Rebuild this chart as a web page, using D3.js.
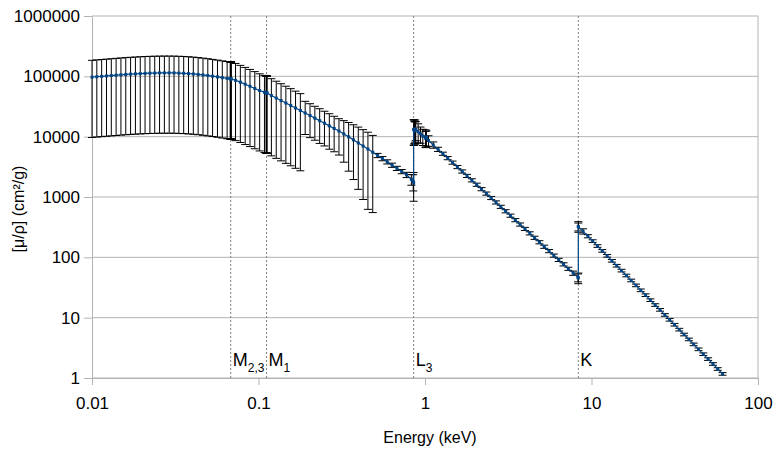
<!DOCTYPE html>
<html>
<head>
<meta charset="utf-8">
<script src="https://cdn.jsdelivr.net/npm/d3@7"></script>
<style>
  body { margin: 0; background: #fff; }
  text { font-family: 'Liberation Sans', Arial, sans-serif; }
</style>
</head>
<body>
<div class="canvas"></div>
<script>
// photon energy (keV)
const energy = [
  // below M2,3
  0.0100, 0.01069, 0.01143, 0.01222, 0.01306, 0.01396, 0.01492, 0.01595, 0.01705, 0.01823,
  0.01949, 0.02083, 0.02227, 0.02381, 0.02545, 0.02721, 0.02908, 0.03109, 0.03324, 0.03553,
  0.03798, 0.0406, 0.0434, 0.0464, 0.0496, 0.0530, 0.0567, 0.0606, 0.0648, 0.0676,
  0.0680, 0.0681, 0.0681, 0.0682, 0.0686,
  // M2,3 -> M1
  0.0728, 0.0778, 0.0832, 0.0889, 0.0950, 0.1016, 0.1086, 0.1110, 0.1117, 0.1118,
  0.1118, 0.1119, 0.1126,
  // M1 -> L3
  0.1195, 0.1278, 0.1366, 0.1460, 0.1561, 0.1669, 0.1784, 0.1907, 0.2039, 0.2180,
  0.2330, 0.2490, 0.2663, 0.2847, 0.3043, 0.3253, 0.3478, 0.3718, 0.3975, 0.4249,
  0.4542, 0.4856, 0.5191, 0.5550, 0.5933, 0.6342, 0.6780, 0.7248, 0.7748, 0.8283,
  0.8500, 0.8547,
  // L3, L2, L1
  0.8547, 0.8590, 0.8634, 0.8721, 0.8721, 0.8800, 0.9100, 0.9400, 0.9700, 1.0081,
  1.0081, 1.0200,
  // L1 -> K
  1.050, 1.121, 1.198, 1.281, 1.369, 1.464, 1.565, 1.673, 1.788, 1.912,
  2.044, 2.185, 2.336, 2.497, 2.669, 2.853, 3.050, 3.261, 3.486, 3.726,
  3.983, 4.258, 4.552, 4.866, 5.202, 5.561, 5.944, 6.355, 6.793, 7.262,
  7.763, 8.299, 8.333,
  // above K
  8.333, 8.340, 8.900, 9.510, 10.16, 10.86, 11.61, 12.41, 13.26, 14.17,
  15.15, 16.19, 17.31, 18.50, 19.77, 21.13, 22.58, 24.13, 25.79, 27.57,
  29.46, 31.49, 33.66, 35.97, 38.45, 41.09, 43.92, 46.94, 50.17, 53.62,
  57.31, 61.25
];

// [mu/rho] (cm2/g)
const mu = [
  97000, 98500, 100000, 101500, 103000, 104500, 106000, 107500, 108800, 110000,
  111000, 112000, 112800, 113400, 113800, 114000, 114000, 113800, 113200, 112300,
  111000, 109500, 107600, 105400, 103000, 100500, 97800, 95000, 92500, 91500,
  91000, 90500, 92000, 91800, 90500,
  86000, 80000, 74000, 68500, 63000, 58000, 54500, 53500, 53000, 52500,
  54000, 53800, 53000,
  48100, 43700, 39700, 36100, 32900, 29900, 27200, 24700, 22400, 20300,
  18400, 16700, 15100, 13700, 12400, 11100, 9930, 8850, 7870, 6990,
  6240, 5520, 4890, 4330, 3830, 3370, 2990, 2640, 2330, 1960,
  1800, 1700,
  13200, 13000, 12800, 12500, 13500, 13200, 12100, 11100, 10200, 9400,
  10000, 9600,
  8630, 7310, 6180, 5220, 4410, 3720, 3140, 2650, 2240, 1890,
  1600, 1350, 1140, 964, 814, 688, 581, 491, 414, 350,
  296, 250, 211, 178, 150, 127, 107, 90.8, 76.6, 64.7,
  54.7, 46.1, 45.7,
  325, 322, 270, 224, 186, 154, 128, 106, 87.7, 72.7,
  60.3, 50.0, 41.4, 34.3, 28.4, 23.6, 19.5, 16.2, 13.5, 11.1,
  9.23, 7.65, 6.34, 5.26, 4.36, 3.61, 2.99, 2.48, 2.06, 1.71,
  1.41, 1.17
];

// relative uncertainty (%)
const errPct = [
  90, 90, 90, 90, 90, 90, 90, 90, 90, 90,
  90, 90, 90, 90, 90, 90, 90, 90, 90, 90,
  90, 90, 90, 90, 90, 90, 90, 90, 90, 90,
  90, 90, 90, 90, 90,
  90, 90, 90, 90, 90, 90, 90, 90, 90, 90,
  90, 90, 90,
  90, 90, 90, 90, 90, 90, 90, 56, 57, 57,
  58, 58, 59, 59, 60, 66, 73, 78, 83, 87,
  90, 90, 8, 8, 8, 8, 8, 8, 10, 20,
  30, 50,
  45, 45, 40, 40, 40, 35, 35, 30, 30, 30,
  30, 30,
  20, 12, 8, 6, 6, 6, 6, 6, 6, 6,
  6, 6, 6, 6, 6, 6, 6, 6, 6, 6,
  6, 6, 6, 6, 6, 6, 6, 6, 6, 6,
  8, 15, 20,
  20, 15, 10, 6, 5, 5, 5, 5, 5, 5,
  5, 5, 5, 5, 5, 5, 5, 5, 5, 5,
  5, 5, 5, 5, 5, 5, 5, 5, 5, 5,
  5, 5
];

// absorption edges
const edgeEnergy = [0.0681, 0.1118, 0.8547, 8.333];
const edgeName = ['M', 'M', 'L', 'K'];
const edgeSub = ['2,3', '1', '3', ''];

const xTicks = [0.01, 0.1, 1, 10, 100];
const yTicks = [1, 10, 100, 1000, 10000, 100000, 1000000];

const dims = {
  width: 775,
  height: 451,
  marginLeft: 92,
  marginTop: 16,
  marginRight: 17,
  marginBottom: 73,
  fontSize: '17px'
};

const graphWidth = dims.width - dims.marginLeft - dims.marginRight;
const graphHeight = dims.height - dims.marginTop - dims.marginBottom;

const svg = d3
  .select('.canvas')
  .append('svg')
  .attr('width', dims.width)
  .attr('height', dims.height);

const graph = svg
  .append('g')
  .attr('transform', `translate(${dims.marginLeft}, ${dims.marginTop})`);

// scales
const x = d3.scaleLog().domain([0.01, 100]).range([0, graphWidth]);
const y = d3.scaleLog().domain([1, 1e6]).range([graphHeight, 0]);

const data = energy.map((e, i) => ({ e: e, v: mu[i], err: errPct[i] }));

// horizontal grid + right frame
graph
  .append('g')
  .selectAll('line')
  .data(yTicks)
  .enter()
  .append('line')
  .attr('x1', 0)
  .attr('x2', graphWidth)
  .attr('y1', (d) => y(d))
  .attr('y2', (d) => y(d))
  .attr('stroke', '#b3b3b3');

graph
  .append('line')
  .attr('x1', graphWidth)
  .attr('x2', graphWidth)
  .attr('y1', 0)
  .attr('y2', graphHeight)
  .attr('stroke', '#b3b3b3');

// axes
const xAxis = d3
  .axisBottom(x)
  .tickValues(xTicks)
  .tickFormat((d) => String(d))
  .tickSize(7)
  .tickSizeOuter(0)
  .tickPadding(12);
const yAxis = d3
  .axisLeft(y)
  .tickValues(yTicks)
  .tickFormat(d3.format('d'))
  .tickSize(8)
  .tickSizeOuter(0)
  .tickPadding(4);

const xAxisGroup = graph
  .append('g')
  .attr('transform', `translate(0, ${graphHeight})`)
  .call(xAxis);
const yAxisGroup = graph.append('g').call(yAxis);

[xAxisGroup, yAxisGroup].forEach((g) => {
  g.select('path.domain').attr('stroke', '#b3b3b3');
  g.selectAll('.tick line').attr('stroke', '#b3b3b3');
  g.selectAll('text')
    .attr('fill', '#000')
    .attr('font-family', null)
    .attr('font-size', dims.fontSize);
});

// edge markers
const edges = graph.append('g');
edges
  .selectAll('line')
  .data(edgeEnergy)
  .enter()
  .append('line')
  .attr('x1', (d) => x(d))
  .attr('x2', (d) => x(d))
  .attr('y1', 0)
  .attr('y2', graphHeight)
  .attr('stroke', '#808080')
  .attr('stroke-dasharray', '2,2');

const labels = edges
  .selectAll('text')
  .data(edgeEnergy)
  .enter()
  .append('text')
  .attr('x', (d) => x(d) + 2)
  .attr('y', 350)
  .attr('font-size', '18px')
  .attr('fill', '#000');
labels.append('tspan').text((d, i) => edgeName[i]);
labels
  .append('tspan')
  .attr('font-size', '12px')
  .attr('dy', 6)
  .text((d, i) => edgeSub[i]);

// error bars
const bars = graph.append('g').attr('stroke', '#000').attr('stroke-width', 1);
data.forEach((d) => {
  const lo = y(d.v * (1 - d.err / 100));
  const hi = y(d.v * (1 + d.err / 100));
  const cx = x(d.e);
  bars.append('line').attr('x1', cx).attr('x2', cx).attr('y1', lo).attr('y2', hi);
  bars.append('line').attr('x1', cx - 4).attr('x2', cx + 4).attr('y1', lo).attr('y2', lo);
  bars.append('line').attr('x1', cx - 4).attr('x2', cx + 4).attr('y1', hi).attr('y2', hi);
});

// series line + markers
const line = d3
  .line()
  .x((d) => x(d.e))
  .y((d) => y(d.v));

graph
  .append('path')
  .datum(data)
  .attr('d', line)
  .attr('fill', 'none')
  .attr('stroke', '#004586')
  .attr('stroke-width', 1.2);

graph
  .selectAll('rect.pt')
  .data(data)
  .enter()
  .append('rect')
  .attr('class', 'pt')
  .attr('x', (d) => x(d.e) - 1.5)
  .attr('y', (d) => y(d.v) - 1.5)
  .attr('width', 3)
  .attr('height', 3)
  .attr('fill', '#004586');

// axis titles
svg
  .append('text')
  .attr('x', 430)
  .attr('y', 443)
  .attr('text-anchor', 'middle')
  .attr('font-size', '16px')
  .attr('fill', '#000')
  .text('Energy (keV)');

svg
  .append('text')
  .attr('transform', 'translate(24, 209) rotate(-90)')
  .attr('text-anchor', 'middle')
  .attr('font-size', '16px')
  .attr('fill', '#000')
  .text('[μ/ρ] (cm²/g)');
</script>
</body>
</html>
